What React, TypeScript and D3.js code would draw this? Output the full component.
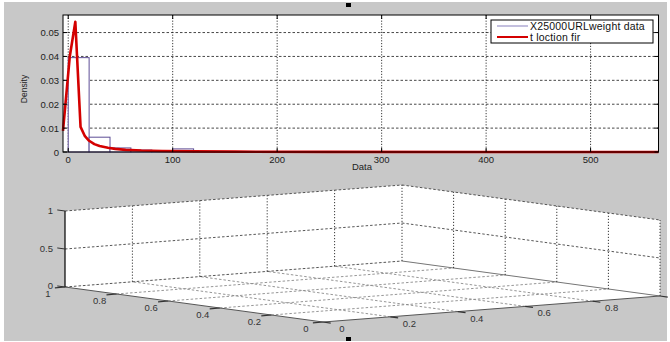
import React from "react";
import * as d3 from "d3";

// ---- Top panel data (histogram + t location-scale fit) ----
const binStarts = [0, 20, 40, 60, 80, 100, 120, 140, 160, 180, 200, 220, 240, 260, 280, 300, 320, 340, 360, 380, 400, 420, 440, 460, 480, 500, 520, 540];
const binDensity = [0.0395, 0.0062, 0.0017, 0.0008, 0.0002, 0.0013, 0.0001, 0.0001, 0.0002, 0.0001, 0.0, 0.0001, 0.0, 0.0001, 0.0, 0.0, 0.0001, 0.0, 0.0, 0.0, 0.0, 0.0, 0.0001, 0.0, 0.0, 0.0, 0.0, 0.0001];
const binWidth = 20;

const fitX = [-5, 1.5, 6.8, 11.8, 16, 20, 25, 30, 38, 45, 55, 70, 90, 120, 160, 250, 400, 565];
const fitY = [0.0088, 0.04, 0.0545, 0.0105, 0.0066, 0.0047, 0.0033, 0.0025, 0.0018, 0.0013, 0.0009, 0.0006, 0.0004, 0.00025, 0.00015, 0.00007, 0.00003, 0.00001];

const xTicks = [0, 100, 200, 300, 400, 500];
const yTicks = [0, 0.01, 0.02, 0.03, 0.04, 0.05];
const yTickLabels = ["0", "0.01", "0.02", "0.03", "0.04", "0.05"];
const legendLabels = ["X25000URLweight data", "t loction fir"];

// ---- Bottom panel (empty 3-D axes) ----
const ticks3d = [0, 0.2, 0.4, 0.6, 0.8, 1];
const tickLabels3d = ["0", "0.2", "0.4", "0.6", "0.8", "1"];
const zTicks = [0, 0.5, 1];
const zTickLabels = ["0", "0.5", "1"];

const FONT = "'Liberation Sans', Arial, sans-serif";
const BG = "#c8c8c8";
const BAR = "#5e4e96";
const RED = "#d40000";

export default function App() {
  // top axes
  const L = 63, R = 658.5, T = 15, B = 152;
  const x = d3.scaleLinear().domain([-5, 565]).range([L, R]);
  const y = d3.scaleLinear().domain([0, 0.05735]).range([B, T]);
  const line = d3.line<number>().x((_, i) => x(fitX[i])).y((d) => y(d));

  // 3D projection built from linear scales
  const px = d3.scaleLinear().domain([0, 1]).range([0, 337]);
  const py = d3.scaleLinear().domain([0, 1]).range([0, -258]);
  const qx = d3.scaleLinear().domain([0, 1]).range([0, -26]);
  const qy = d3.scaleLinear().domain([0, 1]).range([0, -35]);
  const qz = d3.scaleLinear().domain([0, 1]).range([0, -76]);
  const O = [323, 322];
  const P = (a: number, b: number, c: number): [number, number] => [O[0] + px(a) + py(b), O[1] + qx(a) + qy(b) + qz(c)];
  const poly = (pts: [number, number][]) => pts.map((p) => p.join(",")).join(" ");
  const seg = (a: [number, number], b: [number, number], props: any, key: string) => (
    <line key={key} x1={a[0]} y1={a[1]} x2={b[0]} y2={b[1]} {...props} />
  );

  const inner = ticks3d.filter((t) => t > 0 && t < 1);
  const wallDot = { stroke: "#222", strokeWidth: 0.9, strokeDasharray: "1.2,1.8" };
  const wallDash = { stroke: "#444", strokeWidth: 0.9, strokeDasharray: "2.5,2" };
  const floorDash = { stroke: "#8a8a8a", strokeWidth: 0.9, strokeDasharray: "2.5,2" };

  return (
    <svg width={670} height={342} style={{ position: "absolute", left: 0, top: 0 }} fontFamily={FONT}>
      <rect x={0} y={0} width={670} height={342} fill="#ffffff" />
      <rect x={4} y={2} width={663} height={339} fill={BG} />

      {/* ===== top axes ===== */}
      <rect x={L} y={T} width={R - L} height={B - T} fill="#ffffff" />
      {yTicks.slice(1).map((t) => (
        <line key={"gy" + t} x1={L} x2={R} y1={y(t)} y2={y(t)} stroke="#333" strokeWidth={0.9} strokeDasharray="2.5,2" />
      ))}
      {xTicks.map((t) => (
        <line key={"gx" + t} x1={x(t)} x2={x(t)} y1={T} y2={B} stroke="#222" strokeWidth={0.9} strokeDasharray="1.2,1.6" />
      ))}
      {binStarts.map((s, i) => (
        <rect key={"b" + s} x={x(s)} y={y(binDensity[i])} width={x(s + binWidth) - x(s)} height={B - y(binDensity[i])}
          fill="#ffffff" stroke={BAR} strokeWidth={1} />
      ))}
      <path d={line(fitY) || ""} fill="none" stroke={RED} strokeWidth={2.6} strokeLinejoin="round" />
      <rect x={L} y={T} width={R - L} height={B - T} fill="none" stroke="#000" strokeWidth={1} />
      {yTicks.map((t, i) => (
        <g key={"yt" + t}>
          <line x1={L} x2={L + 4} y1={y(t)} y2={y(t)} stroke="#000" />
          <line x1={R - 4} x2={R} y1={y(t)} y2={y(t)} stroke="#000" />
          <text x={L - 4} y={y(t) + 3.5} fontSize={9.5} textAnchor="end" fill="#222">{yTickLabels[i]}</text>
        </g>
      ))}
      {xTicks.map((t) => (
        <g key={"xt" + t}>
          <line x1={x(t)} x2={x(t)} y1={B} y2={B - 4} stroke="#000" />
          <line x1={x(t)} x2={x(t)} y1={T} y2={T + 4} stroke="#000" />
          <text x={x(t)} y={B + 10.5} fontSize={9.5} textAnchor="middle" fill="#222">{t}</text>
        </g>
      ))}
      <text x={362} y={170} fontSize={9.5} textAnchor="middle" fill="#222">Data</text>
      <text transform="translate(27,89) rotate(-90)" fontSize={8.5} textAnchor="middle" fill="#222">Density</text>

      {/* legend */}
      <rect x={491} y={20} width={162} height={23} fill="#ffffff" stroke="#000" strokeWidth={1} />
      <line x1={497} x2={528} y1={26} y2={26} stroke="#9c94c8" strokeWidth={1.2} />
      <line x1={497} x2={528} y1={37} y2={37} stroke={RED} strokeWidth={2} />
      <text x={530} y={29.5} fontSize={10.5} letterSpacing={0.2} fill="#111">{legendLabels[0]}</text>
      <text x={530} y={40.5} fontSize={10.5} letterSpacing={0.2} fill="#111">{legendLabels[1]}</text>

      {/* ===== bottom 3-D axes ===== */}
      <polygon points={poly([P(0, 0, 0), P(1, 0, 0), P(1, 1, 0), P(0, 1, 0)])} fill="#ffffff" />
      <polygon points={poly([P(0, 1, 0), P(1, 1, 0), P(1, 1, 1), P(0, 1, 1)])} fill="#ffffff" />
      <polygon points={poly([P(1, 0, 0), P(1, 1, 0), P(1, 1, 1), P(1, 0, 1)])} fill="#ffffff" />

      {/* floor grid */}
      {inner.map((t) => seg(P(t, 0, 0), P(t, 1, 0), floorDash, "fx" + t))}
      {inner.map((t) => seg(P(0, t, 0), P(1, t, 0), floorDash, "fy" + t))}
      {seg(P(0, 1, 0), P(1, 1, 0), wallDash, "backleft")}
      {seg(P(1, 1, 0), P(1, 0, 0), { stroke: "#777", strokeWidth: 1 }, "backright")}

      {/* back walls */}
      {ticks3d.filter((t) => t > 0).map((t) => seg(P(t, 1, 0), P(t, 1, 1), wallDot, "wx" + t))}
      {ticks3d.filter((t) => t < 1).map((t) => seg(P(1, t, 0), P(1, t, 1), wallDot, "wy" + t))}
      {zTicks.filter((t) => t > 0).map((t) => (
        <g key={"wz" + t}>
          {seg(P(0, 1, t), P(1, 1, t), wallDash, "a")}
          {seg(P(1, 1, t), P(1, 0, t), wallDash, "b")}
        </g>
      ))}

      {/* axis lines */}
      {seg(P(0, 1, 0), P(0, 0, 0), { stroke: "#555", strokeWidth: 1 }, "ayl")}
      {seg(P(0, 0, 0), P(1, 0, 0), { stroke: "#555", strokeWidth: 1 }, "axl")}
      {seg(P(0, 1, 0), P(0, 1, 1), { stroke: "#000", strokeWidth: 1.2 }, "azl")}

      {/* ticks + labels */}
      {ticks3d.map((t, i) => {
        const a = P(0, t, 0);
        return (
          <g key={"ly" + t}>
            {seg(a, P(-0.03, t, 0), { stroke: "#333", strokeWidth: 1.2 }, "t")}
            <text x={a[0] - 17} y={a[1] + 10} fontSize={9.5} textAnchor="middle" fill="#333">{tickLabels3d[i]}</text>
          </g>
        );
      })}
      {ticks3d.map((t, i) => {
        const a = P(t, 0, 0);
        return (
          <g key={"lx" + t}>
            {seg(a, P(t, -0.03, 0), { stroke: "#333", strokeWidth: 1.2 }, "t")}
            {t < 1 ? (
              <text x={a[0] + 19} y={a[1] + 10} fontSize={9.5} textAnchor="middle" fill="#333">{tickLabels3d[i]}</text>
            ) : null}
          </g>
        );
      })}
      {zTicks.map((t, i) => {
        const a = P(0, 1, t);
        return (
          <g key={"lz" + t}>
            {seg(a, P(0, 1.03, t), { stroke: "#333", strokeWidth: 1 }, "t")}
            <text x={53} y={a[1] + (t === 0 ? 1.5 : 3)} fontSize={9.5} textAnchor="end" fill="#333">{zTickLabels[i]}</text>
          </g>
        );
      })}

      {/* figure selection handles */}
      <rect x={346} y={3} width={5} height={4} fill="#000" />
      <rect x={346} y={337} width={5} height={4} fill="#000" />
    </svg>
  );
}
